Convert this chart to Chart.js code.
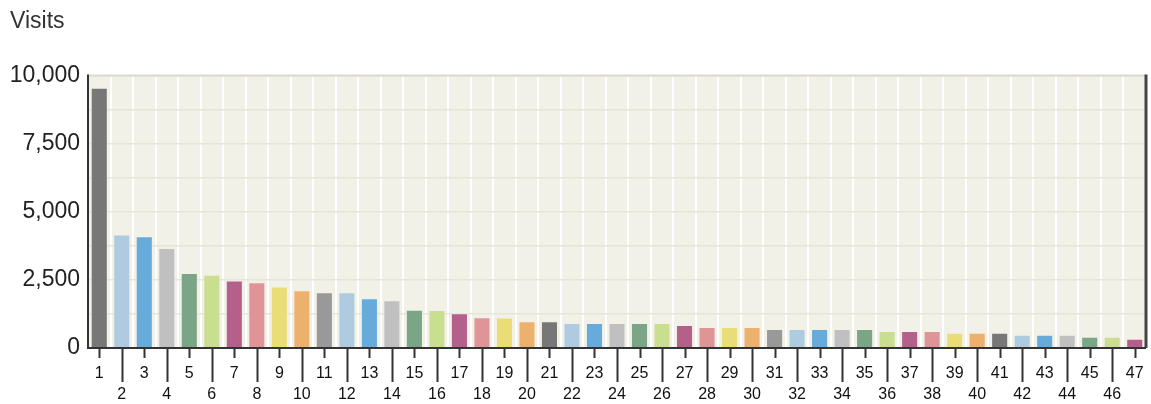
<!DOCTYPE html>
<html>
<head>
    <meta charset="utf-8">
    <script src="https://cdn.jsdelivr.net/npm/chart.js@4/dist/chart.umd.min.js"></script>
    <title>Visits</title>
    <style>
        body { margin: 0; background: #fff; }
        #box { width: 1151px; height: 404px; }
    </style>
</head>
<body>
<div id="box">
    <canvas id="myChart"></canvas>
</div>

<script>
    // the data
    var categories = [];
    for (var n = 1; n <= 47; n++) categories.push(String(n));

    var visits = [9520, 4130, 4070, 3630, 2720, 2650, 2440, 2380, 2220, 2080,
                  2010, 2010, 1790, 1720, 1370, 1360, 1240, 1090, 1080, 945,
                  945, 882, 882, 882, 882, 882, 809, 735, 735, 735,
                  662, 662, 662, 662, 662, 588, 588, 588, 527, 527,
                  527, 452, 452, 452, 379, 379, 305];

    var yTicks = [0, 2500, 5000, 7500, 10000];

    // colour cycle (the grey swaps every ten bars)
    var palette = ['#777777', '#aecbe0', '#66abd9', '#c0c0c0', '#7aa586',
                   '#c9df8f', '#b5608a', '#df9598', '#e9dd77', '#ecb16d',
                   '#999999', '#aecbe0', '#66abd9', '#c0c0c0', '#7aa586',
                   '#c9df8f', '#b5608a', '#df9598', '#e9dd77', '#ecb16d'];

    var barColors = visits.map(function (v, i) { return palette[i % 20]; });

    // even labels go on the second row
    var xLabels = categories.map(function (c, i) {
        return (i % 2 === 1) ? ['', c] : c;
    });

    var FONT = "'Liberation Sans', Arial, sans-serif";

    // background of the plot + borders and staggered tick marks
    var frame = {
        id: 'frame',
        beforeDraw: function (chart) {
            var a = chart.chartArea, ctx = chart.ctx;
            ctx.save();
            ctx.fillStyle = '#f2f1e8';
            ctx.fillRect(a.left, a.top, a.right - a.left, a.bottom - a.top);
            ctx.restore();
        },
        afterDraw: function (chart) {
            var a = chart.chartArea, ctx = chart.ctx;
            var xs = chart.scales.x;
            ctx.save();
            // top border
            ctx.strokeStyle = '#dcdbd0';
            ctx.lineWidth = 2;
            ctx.beginPath();
            ctx.moveTo(a.left, a.top);
            ctx.lineTo(a.right, a.top);
            ctx.stroke();
            // right border
            ctx.strokeStyle = '#444444';
            ctx.lineWidth = 3;
            ctx.beginPath();
            ctx.moveTo(a.right, a.top - 1);
            ctx.lineTo(a.right, a.bottom);
            ctx.stroke();
            // left and bottom axes
            ctx.strokeStyle = '#333333';
            ctx.lineWidth = 2;
            ctx.beginPath();
            ctx.moveTo(a.left, a.top - 1);
            ctx.lineTo(a.left, a.bottom);
            ctx.lineTo(a.right, a.bottom);
            ctx.stroke();
            // tick marks
            ctx.lineWidth = 2;
            for (var i = 0; i < categories.length; i++) {
                var x = Math.round(xs.getPixelForValue(i)) + 0.5;
                var len = (i % 2 === 1) ? 34 : 10;
                ctx.beginPath();
                ctx.moveTo(x, a.bottom);
                ctx.lineTo(x, a.bottom + len);
                ctx.stroke();
            }
            ctx.restore();
        }
    };

    var data = {
        labels: xLabels,
        datasets: [{
            label: 'Visits',
            data: visits,
            backgroundColor: barColors,
            borderWidth: 0,
            barPercentage: 0.67,
            categoryPercentage: 1
        }]
    };

    var config = {
        type: 'bar',
        data: data,
        options: {
            responsive: true,
            maintainAspectRatio: false,
            animation: false,
            layout: {
                padding: { left: 10, right: 5, top: 0, bottom: 0 }
            },
            plugins: {
                legend: { display: false },
                tooltip: { enabled: false },
                title: {
                    display: true,
                    text: 'Visits',
                    align: 'start',
                    color: '#333333',
                    font: { family: FONT, size: 23, weight: 'normal' },
                    padding: { top: 8, bottom: 40 }
                }
            },
            scales: {
                x: {
                    offset: true,
                    border: { display: false },
                    grid: {
                        offset: true,
                        color: '#ffffff',
                        lineWidth: 2,
                        drawTicks: false
                    },
                    ticks: {
                        autoSkip: false,
                        maxRotation: 0,
                        padding: 15,
                        color: '#111111',
                        font: { family: FONT, size: 16, lineHeight: 1.3 }
                    },
                    afterFit: function (scale) {
                        scale.height = 56;
                        scale.paddingLeft = 0;
                        scale.paddingRight = 0;
                    }
                },
                y: {
                    min: 0,
                    max: 10000,
                    border: { display: false },
                    grid: {
                        color: '#e6e5da',
                        lineWidth: 1.5,
                        drawTicks: false
                    },
                    ticks: {
                        stepSize: 1250,
                        padding: 8,
                        color: '#222222',
                        font: { family: FONT, size: 23 },
                        callback: function (v) {
                            return yTicks.indexOf(v) >= 0 ? v.toLocaleString('en-US') : '';
                        }
                    },
                    afterFit: function (scale) { scale.width = 78; }
                }
            }
        },
        plugins: [frame]
    };

    var myChart = new Chart(document.getElementById('myChart'), config);
</script>
</body>
</html>
